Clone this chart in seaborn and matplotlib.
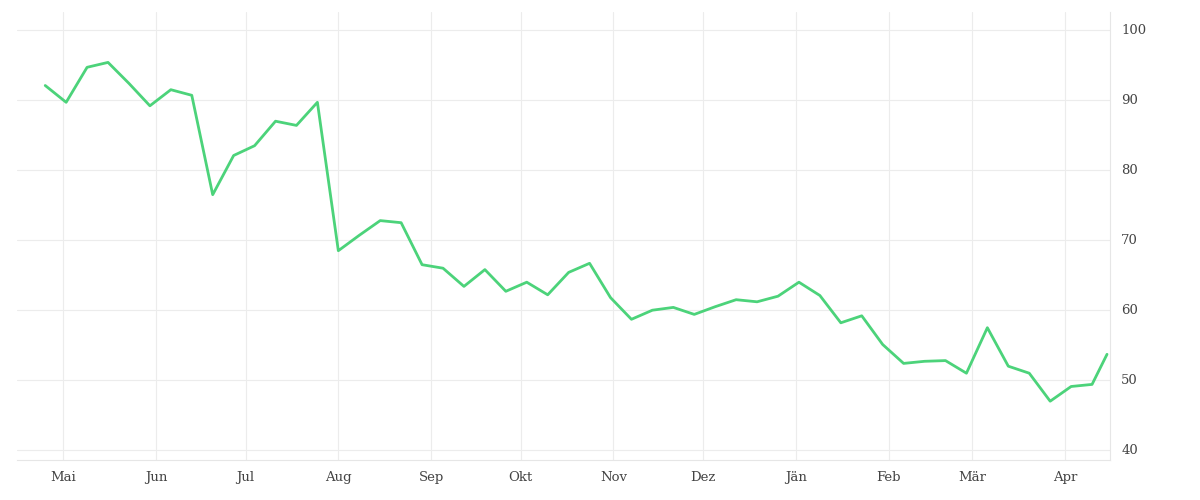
import matplotlib
matplotlib.use("Agg")
import matplotlib.pyplot as plt
import seaborn as sns
import pandas as pd

values = [92.0, 89.6, 94.6, 95.3, 92.3, 89.1, 91.4, 90.6, 76.4, 82.0, 83.4, 86.9, 86.3, 89.6,
          68.4, 70.6, 72.7, 72.4, 66.4, 65.9, 63.3, 65.7, 62.6, 63.9, 62.1, 65.3, 66.6, 61.7,
          58.6, 59.9, 60.3, 59.3, 60.4, 61.4, 61.1, 61.9, 63.9, 62.0, 58.1, 59.1, 55.0, 52.3,
          52.6, 52.7, 50.9, 57.4, 51.9, 50.9, 46.9, 49.0, 49.3, 53.6]
dates = list(pd.date_range("2022-04-25", periods=len(values) - 1, freq="7D")) + [pd.Timestamp("2023-04-15")]
month_labels = ["Mai", "Jun", "Jul", "Aug", "Sep", "Okt", "Nov", "Dez", "Jän", "Feb", "Mär", "Apr"]
month_ticks = pd.date_range("2022-05-01", periods=12, freq="MS")
y_ticks = [40, 50, 60, 70, 80, 90, 100]

df = pd.DataFrame({"date": dates, "value": values})
sns.set_style("white")
plt.rcParams["font.family"] = ["DejaVu Serif"]
fig = plt.figure(figsize=(12, 5), dpi=100)
ax = fig.add_axes([0.014, 0.08, 0.911, 0.896])
sns.lineplot(data=df, x="date", y="value", ax=ax, color="#4cd37a", linewidth=2)
ax.set_xlim(pd.Timestamp("2022-04-15 12:00"), pd.Timestamp("2023-04-16"))
ax.set_ylim(38.5, 102.5)
ax.set_xticks(month_ticks)
ax.set_xticklabels(month_labels)
ax.set_yticks(y_ticks)
ax.yaxis.tick_right()
ax.grid(True, color="#ececec", linewidth=0.8)
for s in ["top", "left"]:
    ax.spines[s].set_visible(False)
for s in ["bottom", "right"]:
    ax.spines[s].set_color("#e6e6e6")
ax.tick_params(axis="both", colors="#444444", labelsize=9.5, length=0, pad=8)
ax.set_xlabel("")
ax.set_ylabel("")
fig.savefig("out.png")
